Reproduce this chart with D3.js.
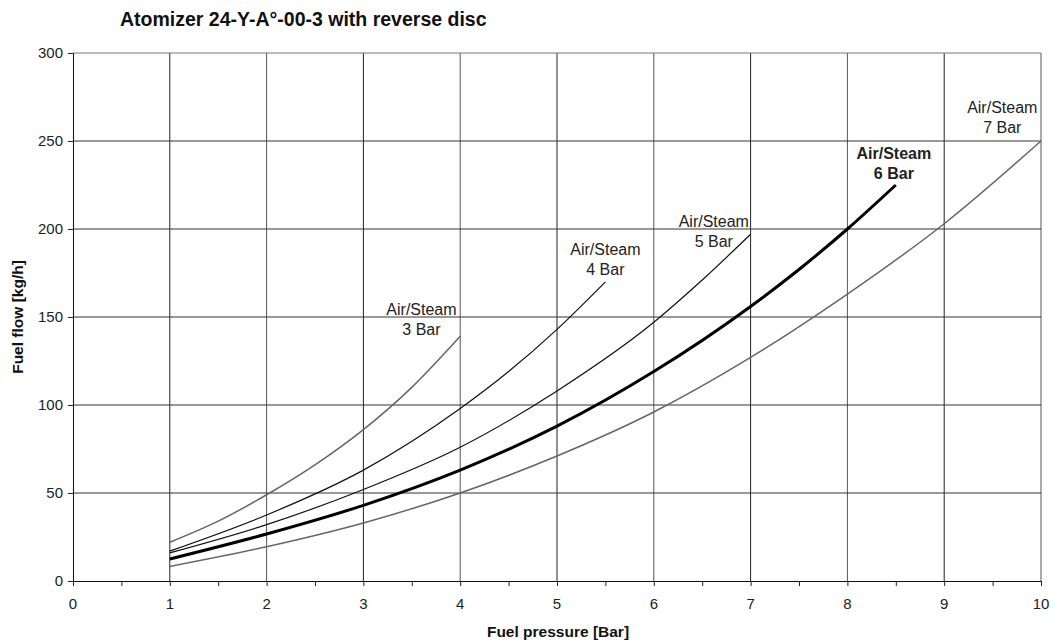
<!DOCTYPE html>
<html><head><meta charset="utf-8">
<script src="https://cdn.jsdelivr.net/npm/d3@7"></script>
<style>body{margin:0;background:#fff;font-family:"Liberation Sans",Arial,sans-serif}</style>
</head><body>
<svg id="c" width="1054" height="641"></svg>
<script>
const xTicks = [0,1,2,3,4,5,6,7,8,9,10];
const yTicks = [0,50,100,150,200,250,300];
const bar3 = [[1,22],[1.5,34],[2,49],[2.5,66],[3,86],[3.5,110],[4,139]];
const bar4 = [[1,17],[2,37.5],[3,63],[4,98],[4.5,119],[5,143],[5.5,170]];
const bar5 = [[1,16],[2,32],[3,52],[4,76],[5,108],[6,147],[6.5,171],[7,197]];
const bar6 = [[1,12.5],[2,26.7],[3,43],[4,63],[5,88],[6,119],[7,156],[7.5,177],[8,200],[8.5,225]];
const bar7 = [[1,8.3],[2,19.5],[3,33],[4,50],[5,71],[6,96],[7,127],[8,163],[9,203],[10,250]];
const labels = [
  {name:"3 Bar", x:3.6, y:151},
  {name:"4 Bar", x:5.5, y:185},
  {name:"5 Bar", x:6.62, y:201},
  {name:"6 Bar", x:8.48, y:240},
  {name:"7 Bar", x:9.6, y:266}
];

const svg = d3.select("#c");
const x = d3.scaleLinear().domain([0,10]).range([73,1041]);
const y = d3.scaleLinear().domain([0,300]).range([581,53]);

svg.append("text").attr("x",120).attr("y",26).attr("font-size",19.5).attr("font-weight","bold")
  .attr("fill","#111").text("Atomizer 24-Y-A°-00-3 with reverse disc");

// grid
const g = svg.append("g");
g.selectAll(".vg").data(xTicks.slice(1)).join("line")
  .attr("x1",d=>x(d)).attr("x2",d=>x(d)).attr("y1",y(0)).attr("y2",y(300))
  .attr("stroke",(d,i)=>i%2?"#555":"#222").attr("stroke-width",1);
g.selectAll(".hg").data(yTicks.slice(1)).join("line")
  .attr("x1",x(0)).attr("x2",x(10)).attr("y1",d=>y(d)).attr("y2",d=>y(d))
  .attr("stroke",(d,i)=>d===300?"#777":"#333").attr("stroke-width",1);

// axes
const xa = svg.append("g").attr("transform",`translate(0,${y(0)})`)
  .call(d3.axisBottom(x).tickValues(d3.range(0,10.01,0.5)).tickSize(5).tickFormat(""));
xa.select(".domain").attr("stroke","#111");
xa.selectAll(".tick line").attr("stroke","#222");
svg.append("g").selectAll("text").data(xTicks).join("text")
  .attr("x",d=>x(d)).attr("y",609).attr("text-anchor","middle").attr("font-size",15).attr("fill","#222").text(d=>d);

const ya = svg.append("g").attr("transform",`translate(${x(0)},0)`)
  .call(d3.axisLeft(y).tickValues(yTicks).tickSize(5).tickFormat(""));
ya.select(".domain").attr("stroke","#111");
ya.selectAll(".tick line").attr("stroke","#222");
svg.append("g").selectAll("text").data(yTicks).join("text")
  .attr("x",63).attr("y",d=>y(d)+5).attr("text-anchor","end").attr("font-size",15).attr("fill","#222").text(d=>d);

svg.append("text").attr("x",558).attr("y",637).attr("text-anchor","middle").attr("font-size",15.5)
  .attr("font-weight","bold").attr("fill","#111").text("Fuel pressure [Bar]");
svg.append("text").attr("transform",`translate(23,317) rotate(-90)`).attr("text-anchor","middle")
  .attr("font-size",15.5).attr("font-weight","bold").attr("fill","#111").text("Fuel flow [kg/h]");

const line = d3.line().x(d=>x(d[0])).y(d=>y(d[1])).curve(d3.curveMonotoneX);
const series = [
  {d:bar7,c:"#666",w:1.5},
  {d:bar3,c:"#666",w:1.5},
  {d:bar5,c:"#111",w:1.2},
  {d:bar4,c:"#111",w:1.2},
  {d:bar6,c:"#000",w:3}
];
svg.append("g").selectAll("path").data(series).join("path")
  .attr("d",s=>line(s.d)).attr("fill","none").attr("stroke",s=>s.c).attr("stroke-width",s=>s.w);

const lg = svg.append("g");
labels.forEach(l=>{
  const bold = l.name==="6 Bar";
  const t = lg.append("text").attr("text-anchor","middle").attr("font-size",16)
    .attr("font-weight",bold?"bold":"normal").attr("fill","#222");
  t.append("tspan").attr("x",x(l.x)).attr("y",y(l.y)).text("Air/Steam");
  t.append("tspan").attr("x",x(l.x)).attr("y",y(l.y)+20).text(l.name);
});
</script>
</body></html>
